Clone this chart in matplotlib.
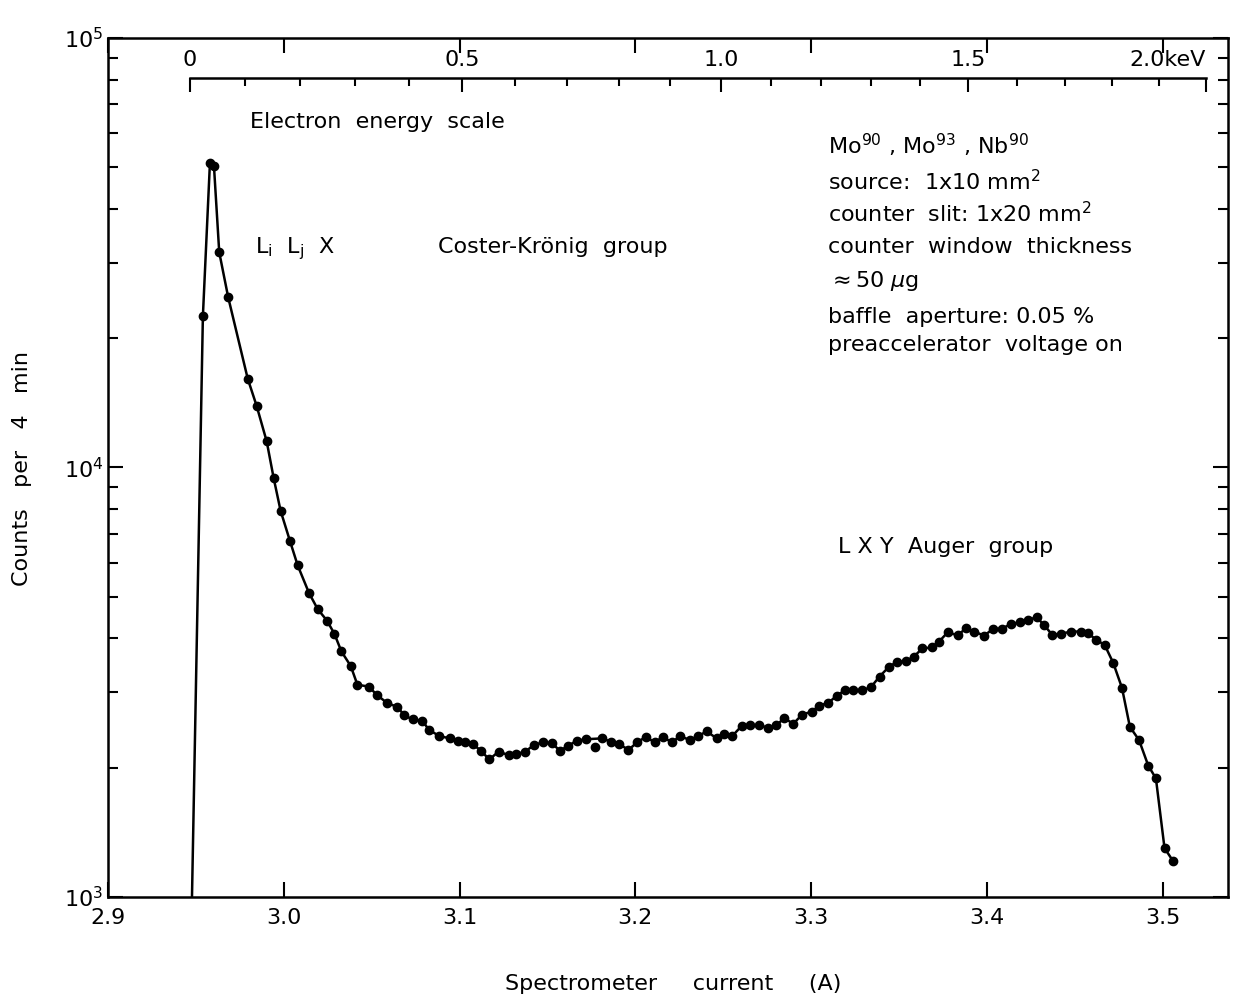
import numpy as np
import matplotlib
matplotlib.use('Agg')
import matplotlib.pyplot as plt
from matplotlib.ticker import FixedLocator, LogLocator, NullFormatter

plt.rcParams['font.family'] = ['DejaVu Sans']
plt.rcParams['mathtext.fontset'] = 'dejavusans'

# spectrometer current (A) and counts per 4 min
current_A = [2.9540, 2.9580, 2.9603, 2.9633, 2.9684, 2.9795, 2.9846, 2.9903, 2.9943, 2.9982,
             3.0035, 3.0079, 3.0143, 3.0193, 3.0246, 3.0288, 3.0328, 3.0381, 3.0419, 3.0483,
             3.0528, 3.0587, 3.0647, 3.0685, 3.0733, 3.0789, 3.0826, 3.0885, 3.0945, 3.0993,
             3.1031, 3.1075, 3.1122, 3.1169, 3.1222, 3.1279, 3.1321, 3.1374, 3.1423, 3.1474,
             3.1526, 3.1571, 3.1618, 3.1666, 3.1719, 3.1810, 3.1861, 3.1908, 3.1961, 3.2009,
             3.2060, 3.2110, 3.2157, 3.2207, 3.2255, 3.2309, 3.2357, 3.2406, 3.2463, 3.2502,
             3.2551, 3.2604, 3.2654, 3.2703, 3.2756, 3.2802, 3.2847, 3.2898, 3.2949, 3.3003,
             3.3046, 3.3097, 3.3145, 3.3192, 3.3240, 3.3292, 3.3340, 3.3389, 3.3444, 3.3486,
             3.3538, 3.3585, 3.3632, 3.3686, 3.3727, 3.3776, 3.3833, 3.3881, 3.3928, 3.3983,
             3.4036, 3.4084, 3.4135, 3.4188, 3.4235, 3.4283, 3.4324, 3.4371, 3.4421, 3.4478,
             3.4535, 3.4576, 3.4622, 3.4670, 3.4718, 3.4768, 3.4813, 3.4865, 3.4918, 3.4961,
             3.5010, 3.5060]
counts = [22500, 51100, 50300, 31700, 24900, 16100, 13900, 11500, 9430, 7930,
          6750, 5920, 5110, 4680, 4400, 4100, 3730, 3450, 3120, 3090,
          2960, 2830, 2770, 2650, 2590, 2570, 2450, 2370, 2340, 2310,
          2300, 2270, 2190, 2090, 2180, 2140, 2150, 2180, 2260, 2290,
          2280, 2190, 2250, 2310, 2330, 2340, 2300, 2270, 2200, 2290,
          2360, 2290, 2360, 2290, 2370, 2320, 2370, 2430, 2340, 2390,
          2370, 2500, 2510, 2510, 2480, 2510, 2610, 2530, 2660, 2700,
          2790, 2830, 2940, 3030, 3030, 3030, 3080, 3260, 3440, 3520,
          3540, 3630, 3790, 3810, 3930, 4130, 4070, 4220, 4150, 4060,
          4210, 4210, 4320, 4360, 4420, 4480, 4300, 4080, 4100, 4150,
          4150, 4110, 3970, 3860, 3510, 3070, 2490, 2320, 2020, 1890,
          1300, 1210]

# where the drawn curve leaves the baseline (no measured point there)
onset_current = [2.9478]
onset_counts = [1000]

# one measured point lying off the drawn curve
stray_current = [3.1770]
stray_counts = [2240]

x_ticks = [2.9, 3.0, 3.1, 3.2, 3.3, 3.4, 3.5]
x_labels = ['2.9', '3.0', '3.1', '3.2', '3.3', '3.4', '3.5']

energy_ticks = [0, 0.5, 1.0, 1.5, 2.0]
energy_labels = ['0', '0.5', '1.0', '1.5', '2.0keV']
energy_minor = [0.1 * k for k in range(21)]

# electron energy scale calibration: E = a*u + b*u^2, u = I - I0
E_I0 = 2.9466
E_A = 3.146
E_B = 0.5437


def cur_to_energy(i):
    u = np.asarray(i, dtype=float) - E_I0
    return E_A * u + E_B * u ** 2


def energy_to_cur(e):
    e = np.asarray(e, dtype=float)
    disc = np.clip(E_A ** 2 + 4 * E_B * e, 0, None)
    return E_I0 + (-E_A + np.sqrt(disc)) / (2 * E_B)


fig = plt.figure(figsize=(12.38, 9.99), dpi=100)
ax = fig.add_axes([0.0872, 0.1021, 0.9047, 0.8599])

ax.plot(onset_current + current_A, onset_counts + counts, '-', color='black', lw=1.8)
ax.plot(current_A, counts, 'o', color='black', ms=6)
ax.plot(stray_current, stray_counts, 'o', color='black', ms=6)

ax.set_yscale('log')
ax.set_xlim(2.9, 3.5371)
ax.set_ylim(1e3, 1e5)
ax.set_xticks(x_ticks, labels=x_labels)
ax.yaxis.set_major_locator(LogLocator(base=10))
ax.yaxis.set_minor_locator(LogLocator(base=10, subs=np.arange(2, 10)))
ax.yaxis.set_minor_formatter(NullFormatter())

ax.tick_params(which='both', direction='in', top=True, right=True, labelsize=16, width=1.5)
ax.tick_params(which='major', length=11)
ax.tick_params(which='minor', length=7)
ax.tick_params(axis='x', pad=8)
for s in ax.spines.values():
    s.set_linewidth(1.8)

# energy scale drawn inside the frame
sec = ax.secondary_xaxis(0.9534, functions=(cur_to_energy, energy_to_cur))
sec.set_xticks(energy_ticks, labels=energy_labels)
sec.xaxis.set_minor_locator(FixedLocator(energy_minor))
sec.tick_params(which='both', direction='in', labelsize=16, width=1.5, pad=6)
sec.tick_params(which='major', length=10)
sec.tick_params(which='minor', length=6)
sec.spines['top'].set_bounds(0, 2.0)
sec.spines['top'].set_linewidth(1.8)
# the last label carries the unit and sits left of its tick
sec.get_xticklabels()[-1].set_horizontalalignment('right')

fs = 16
ax.text(0.1268, 0.9022, 'Electron  energy  scale', transform=ax.transAxes,
        fontsize=fs, va='center', ha='left')
ax.text(0.131, 0.7497, r'L$_{\rm i}$  L$_{\rm j}$  X', transform=ax.transAxes,
        fontsize=fs, va='baseline', ha='left')
ax.text(0.2946, 0.7497, 'Coster-Krönig  group', transform=ax.transAxes,
        fontsize=fs, va='baseline', ha='left')
ax.text(0.6518, 0.4005, 'L X Y  Auger  group', transform=ax.transAxes,
        fontsize=fs, va='baseline', ha='left')

info_lines = [r'Mo$^{90}$ , Mo$^{93}$ , Nb$^{90}$',
              r'source:  1x10 mm$^2$',
              r'counter  slit: 1x20 mm$^2$',
              'counter  window  thickness',
              r'$\approx$50 $\mu$g',
              'baffle  aperture: 0.05 %',
              'preaccelerator  voltage on']
info_y = [0.8650, 0.8231, 0.7861, 0.7494, 0.7105, 0.6679, 0.6360]
for line, yy in zip(info_lines, info_y):
    ax.text(0.6429, yy, line, transform=ax.transAxes, fontsize=fs,
            va='baseline', ha='left')

fig.text(0.5436, 0.009, 'Spectrometer     current     (A)', fontsize=fs,
         ha='center', va='baseline')
fig.text(0.0178, 0.5315, 'Counts   per   4   min', fontsize=fs,
         ha='center', va='center', rotation=90)

fig.savefig('out.png', dpi=100)
